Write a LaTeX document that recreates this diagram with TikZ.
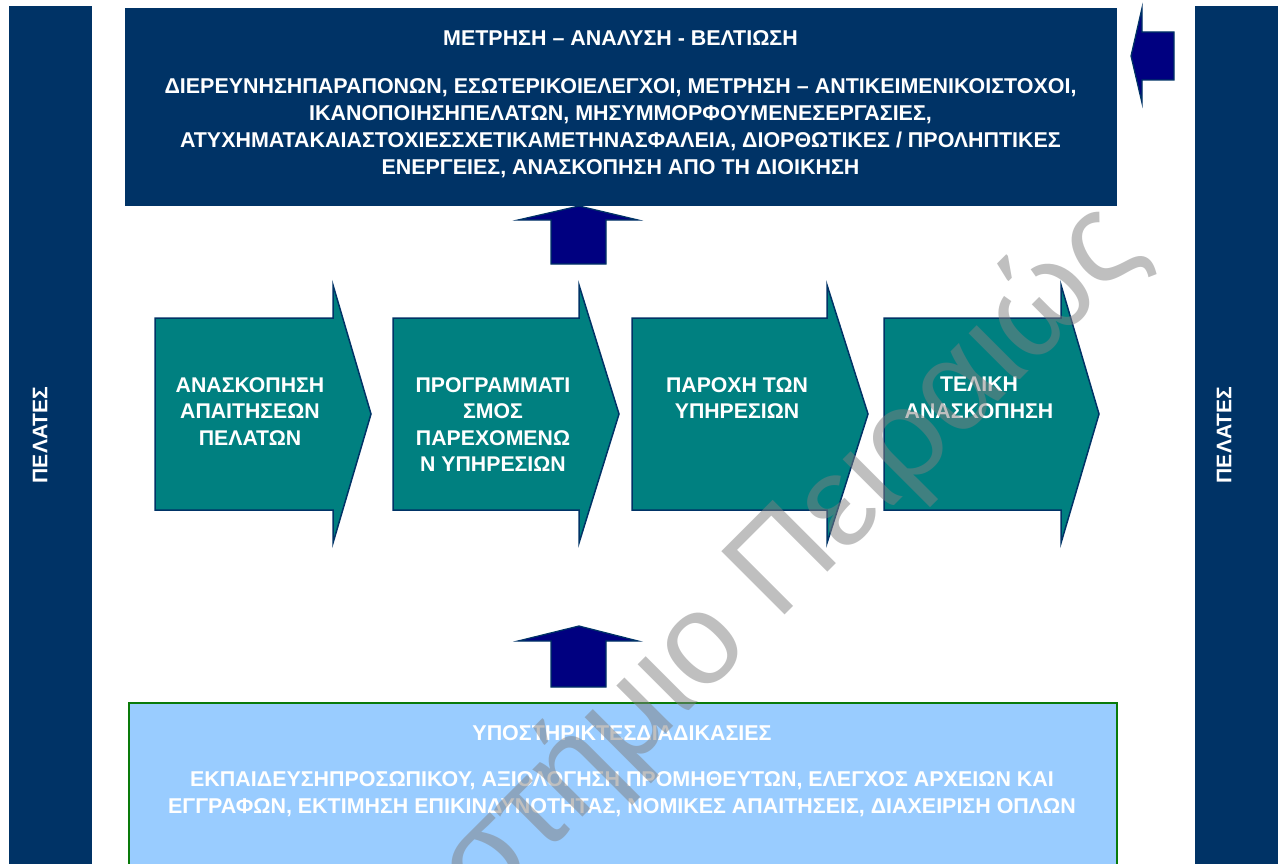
\documentclass[tikz,border=0pt]{standalone}
\usepackage{fontspec}
\setmainfont{Liberation Sans}
\usetikzlibrary{calc}
\definecolor{navy}{HTML}{003366}
\definecolor{tealc}{HTML}{008080}
\definecolor{arrowblue}{HTML}{000080}
\definecolor{lightblue}{HTML}{99CCFF}
\definecolor{greenb}{HTML}{0A7A0A}
\begin{document}
\begin{tikzpicture}[x=0.2mm,y=-0.2mm,
  sidebar/.style={fill=navy,draw=none,inner sep=0pt,anchor=north west},
  wtext/.style={text=white,font=\bfseries\fontsize{12.2}{15.2}\selectfont,align=center,inner sep=0pt},
  sidetext/.style={text=white,font=\bfseries\fontsize{12}{14}\selectfont,inner sep=0pt,rotate=90},
  ctext/.style={text=white,font=\bfseries\fontsize{12.1}{15.1}\selectfont,align=center,inner sep=0pt,anchor=north},
  chev/.style={fill=tealc,draw=navy,line width=0.3mm,line join=miter},
  blockarrow/.style={fill=arrowblue,draw=navy,line width=0.25mm},
  wmark/.style={text=gray,opacity=0.5,font=\fontsize{74}{74}\selectfont,inner sep=0pt}
]
\useasboundingbox (0,0) rectangle (1278,863);
\clip (0,0) rectangle (1278,863);

% side bars
\node[sidebar,minimum width=16.6mm,minimum height=173mm] (lbar) at (9,6) {};
\node[sidebar,minimum width=17mm,minimum height=173mm] (rbar) at (1195,6) {};
\node[sidetext] (lbartext) at (40,435) {ΠΕΛΑΤΕΣ};
\node[sidetext] (rbartext) at (1224,435) {ΠΕΛΑΤΕΣ};

% top box
\node[fill=navy,draw=navy,inner sep=0pt,anchor=north west,minimum width=198.2mm,minimum height=39.4mm] (meas) at (125,8) {};
\node[wtext,anchor=north] (meastext) at (620.5,30.5) {ΜΕΤΡΗΣΗ – ΑΝΑΛΥΣΗ - ΒΕΛΤΙΩΣΗ\\[12.2pt]
ΔΙΕΡΕΥΝΗΣΗΠΑΡΑΠΟΝΩΝ, ΕΣΩΤΕΡΙΚΟΙΕΛΕΓΧΟΙ, ΜΕΤΡΗΣΗ – ΑΝΤΙΚΕΙΜΕΝΙΚΟΙΣΤΟΧΟΙ,\\
ΙΚΑΝΟΠΟΙΗΣΗΠΕΛΑΤΩΝ, ΜΗΣΥΜΜΟΡΦΟΥΜΕΝΕΣΕΡΓΑΣΙΕΣ,\\
ΑΤΥΧΗΜΑΤΑΚΑΙΑΣΤΟΧΙΕΣΣΧΕΤΙΚΑΜΕΤΗΝΑΣΦΑΛΕΙΑ, ΔΙΟΡΘΩΤΙΚΕΣ / ΠΡΟΛΗΠΤΙΚΕΣ\\
ΕΝΕΡΓΕΙΕΣ, ΑΝΑΣΚΟΠΗΣΗ ΑΠΟ ΤΗ ΔΙΟΙΚΗΣΗ};

% left-pointing arrow top right
\draw[blockarrow] (1131,56) -- (1142,8) -- (1142,32) -- (1174,32) -- (1174,80) -- (1142,80) -- (1142,103) -- cycle;

% up arrows
\draw[blockarrow] (579,206) -- (638,220) -- (606,220) -- (606,264) -- (551,264) -- (551,220) -- (518,220) -- cycle;
\draw[blockarrow] (579,626) -- (638,641) -- (606,641) -- (606,687) -- (551,687) -- (551,641) -- (518,641) -- cycle;

% chevrons
\draw[chev] (155,318) -- (333,318) -- (333,285) -- (371,414) -- (333,543) -- (333,510) -- (155,510) -- cycle;
\draw[chev] (393,318) -- (579,318) -- (579,285) -- (619,414) -- (579,543) -- (579,510) -- (393,510) -- cycle;
\draw[chev] (632,318) -- (827,318) -- (827,285) -- (868,414) -- (827,543) -- (827,510) -- (632,510) -- cycle;
\draw[chev] (884,318) -- (1061,318) -- (1061,285) -- (1099,414) -- (1061,543) -- (1061,510) -- (884,510) -- cycle;

\node[ctext] (a1) at (250,377) {ΑΝΑΣΚΟΠΗΣΗ\\ΑΠΑΙΤΗΣΕΩΝ\\ΠΕΛΑΤΩΝ};
\node[ctext] (a2) at (493,377) {ΠΡΟΓΡΑΜΜΑΤΙ\\ΣΜΟΣ\\ΠΑΡΕΧΟΜΕΝΩ\\Ν ΥΠΗΡΕΣΙΩΝ};
\node[ctext] (a3) at (737,377) {ΠΑΡΟΧΗ ΤΩΝ\\ΥΠΗΡΕΣΙΩΝ};
\node[ctext] (a4) at (979,377) {ΤΕΛΙΚΗ\\ΑΝΑΣΚΟΠΗΣΗ};

% bottom box
\node[fill=lightblue,draw=greenb,line width=0.4mm,inner sep=0pt,anchor=north west,minimum width=197.6mm,minimum height=36mm] (supp) at (128,702) {};
\node[wtext,anchor=north,font=\bfseries\fontsize{12.2}{15.4}\selectfont] (supptext) at (622,725) {ΥΠΟΣΤΗΡΙΚΤΕΣΔΙΑΔΙΚΑΣΙΕΣ\\[10.8pt]
ΕΚΠΑΙΔΕΥΣΗΠΡΟΣΩΠΙΚΟΥ, ΑΞΙΟΛΟΓΗΣΗ ΠΡΟΜΗΘΕΥΤΩΝ, ΕΛΕΓΧΟΣ ΑΡΧΕΙΩΝ ΚΑΙ\\
ΕΓΓΡΑΦΩΝ, ΕΚΤΙΜΗΣΗ ΕΠΙΚΙΝΔΥΝΟΤΗΤΑΣ, ΝΟΜΙΚΕΣ ΑΠΑΙΤΗΣΕΙΣ, ΔΙΑΧΕΙΡΙΣΗ ΟΠΛΩΝ};

% watermark
\node[wmark,rotate=45,anchor=base east] (wm) at (1148,252) {Πανεπιστήμιο Πειραιώς};
\end{tikzpicture}
\end{document}
